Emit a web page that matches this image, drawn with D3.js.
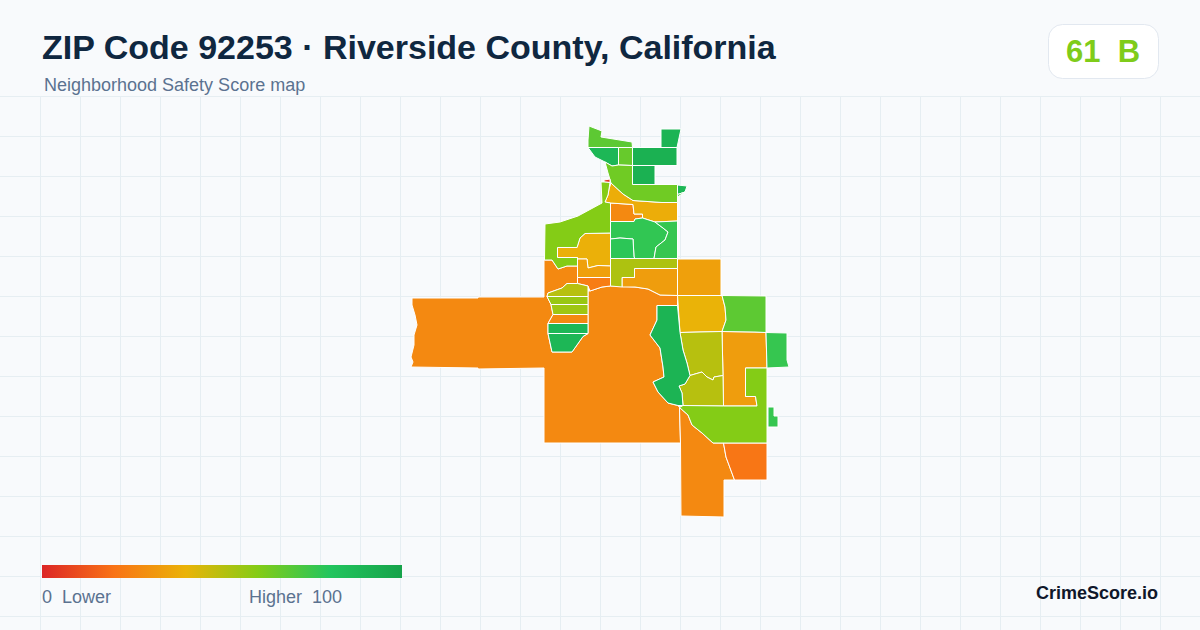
<!DOCTYPE html>
<html>
<head>
<meta charset="utf-8">
<title>ZIP Code 92253</title>
<script src="https://cdnjs.cloudflare.com/ajax/libs/d3/7.8.5/d3.min.js"></script>
<style>
html, body { margin: 0; padding: 0; background: #f8fafc; }
svg { display: block; }
text { font-family: "Liberation Sans", Arial, sans-serif; white-space: pre; }
</style>
</head>
<body>
<script>
var titleText = "ZIP Code 92253 · Riverside County, California";
var subtitleText = "Neighborhood Safety Score map";
var badgeText = "61  B";
var legendLow = "0  Lower";
var legendHigh = "Higher  100";
var brandText = "CrimeScore.io";

var scoreStops = [0, 20, 40, 60, 80, 100];
var scoreColors = ["#dc2626", "#f97316", "#eab308", "#84cc16", "#22c55e", "#16a34a"];

// score per tract, same order as tractRings
var tractScores = [
    27, 27, 21, 27, 33, 34, 40, 33, 38, 39,
    34, 23, 50, 50, 52, 50, 56, 55, 27, 88,
    88, 90, 68, 88, 66, 92, 90, 92, 64, 88,
    72, 5, 60, 77, 78, 76, 60, 68, 76, 76
];

// tract outlines in map units
var tractRings = [
    [[12,198],[78,198],[78,197],[144,197],[144,160],[152,160],[158,169],[167,166],[177.5,166],[177.5,183.5],[167,183.5],[162,188],[148,193],[147,196.5],[151,204.5],[153,214.5],[148,223.5],[148,233.5],[152,252],[172,252],[183,236.5],[188,233.5],[188,191],[190,191],[202,187],[210.5,186],[217,186],[235,187],[248,189],[260,195],[277.5,195.5],[277.5,205.5],[257,205.5],[257,220],[250,235],[260,248],[263,267],[264,277],[253,282],[258,292],[268,303],[278,305.5],[279.5,307.5],[280.5,343],[144,343],[144,268],[78,269],[78,268],[11,267],[13,262],[11,257],[14,245],[14,235],[17,225],[15,215],[12,205]],
    [[279.5,307.5],[288,315],[292,325],[302,333],[313,343],[323.5,343],[326,357],[334.5,380],[324,380],[324,417],[281,416],[280.5,343]],
    [[323.5,343],[367,343],[367,380],[334.5,380],[326,357]],
    [[210.5,103],[233,104.5],[234,114],[242.5,114],[242.5,118],[235,119],[234,121.5],[210.5,121.5]],
    [[322,231.5],[355,232],[366,232.5],[367,268],[345.5,268],[345.5,296.5],[355.5,296.5],[357,306],[323.5,306],[323,275.5]],
    [[277.5,159],[321,159],[321,195.5],[277.5,195.5]],
    [[277.5,195.5],[322,195.5],[325,207],[326,220],[322,231.5],[300,232],[280,232.5]],
    [[234.5,168.5],[277.5,168.5],[277.5,195.5],[260,195],[248,189],[235,187],[222,187],[222,177.5],[234.5,177.5]],
    [[209,89],[211,83],[223,94],[233,100.5],[262,102.5],[277.5,102.5],[277.5,121],[255,122],[242.5,118],[242.5,114],[234,114],[233,104.5],[210.5,103],[205,102],[208,95]],
    [[185,133.5],[210.5,133],[210.5,166],[198,165.5],[188,168],[187,159],[177.5,159],[177.5,157.5],[157.5,157.5],[157.5,147.5],[177,147.5],[180,138]],

    [[177.5,159],[187,159],[188,168],[198,165.5],[210.5,166],[210.5,177.5],[177.5,177.5]],
    [[177.5,177.5],[210.5,177.5],[210.5,186],[202,187],[190,191],[188,186],[177.5,183.5]],
    [[280,232.5],[300,232],[322,231.5],[323,275.5],[314,277],[313,280],[307,277],[302,272],[295,274],[290,275.5],[287,263],[283,250]],
    [[290,275.5],[295,274],[302,272],[307,277],[313,280],[314,277],[323,275.5],[323.5,306],[283,305.5],[282,293],[279,286],[285,284]],
    [[210.5,158.5],[277.5,158.5],[277.5,168.5],[234.5,168.5],[234.5,177.5],[222,177.5],[222,187],[210.5,186]],
    [[147,196.5],[148,193],[162,188],[167,183.5],[177.5,183.5],[188,186],[188,196.5]],
    [[147,196.5],[188,196.5],[188,204.5],[151,204.5]],
    [[151,204.5],[188,204.5],[188,214.5],[153,214.5]],
    [[153,214.5],[188,214.5],[188,223.5],[148,223.5]],
    [[148,223.5],[188,223.5],[188,233.5],[148,233.5]],

    [[148,233.5],[188,233.5],[183,236.5],[172,252],[152,252]],
    [[257,205.5],[277.5,205.5],[280,232.5],[283,250],[287,263],[290,275.5],[285,284],[279,286],[282,293],[283,305.5],[278,305.5],[268,303],[258,292],[253,282],[264,277],[263,267],[260,248],[250,235],[257,220]],
    [[189,26],[202,31],[201,37],[232,42],[232.5,47.5],[188,47.5],[188,40]],
    [[188,47.5],[218.5,47.5],[218.5,65],[212,66],[205,62],[195,57]],
    [[218.5,47.5],[232.5,47.5],[232.5,65.5],[218.5,65]],
    [[232.5,47.5],[277,47.5],[277,65.5],[232.5,65.5]],
    [[261,29],[281,29],[277,47.5],[261,47.5]],
    [[232.5,65.5],[255,65.5],[255,84.5],[232.5,84.5]],
    [[205,62],[212,66],[218.5,65],[232.5,65.5],[232.5,84.5],[277.5,84.5],[277.5,102.5],[262,102.5],[233,100.5],[223,94],[211,83],[208,73]],
    [[277.5,85],[287,86],[285,92],[277.5,94.5]],

    [[277.5,94.5],[285,92],[277.5,97]],
    [[204,80],[210,79],[210,82.5],[204,82]],
    [[201,82],[204,82],[210,82.5],[209,89],[208,95],[205,102],[210.5,103],[210.5,133],[185,133.5],[180,138],[177,147.5],[157.5,147.5],[157.5,157.5],[177.5,157.5],[177.5,166],[167,166],[158,169],[152,160],[144.5,160],[145,124],[160,122],[178,116],[202,103]],
    [[210.5,121.5],[234,121.5],[235,119],[242.5,118],[255,122],[263,128],[268,132],[265,140],[256,147],[254,158.5],[235,158.5],[234,157],[233,139],[220,138],[210.5,139]],
    [[210.5,139],[220,138],[233,139],[234,157],[235,158.5],[210.5,158.5]],
    [[255,122],[277.5,121],[277.5,158.5],[254,158.5],[256,147],[265,140],[268,132],[263,128]],
    [[279.5,307.5],[283,305.5],[323.5,306],[357,306],[355.5,296.5],[345.5,296.5],[345.5,268],[367,268],[367,343],[313,343],[302,333],[292,325],[288,315]],
    [[322,195.5],[366,196],[366,232.5],[355,232],[322,231.5],[326,220],[325,207]],
    [[366,232.5],[387,233],[387,260],[389,267],[367,268]],
    [[368,307],[374,307],[374,316],[378,316],[378,327],[368,327]]
];

var width = 1200, height = 630;

var svg = d3.select("body")
            .append("svg")
            .attr("width", width)
            .attr("height", height);

svg.append("rect")
    .attr("width", width)
    .attr("height", height)
    .attr("fill", "#f8fafc");

// background grid below the header
var grid = svg.append("g")
    .attr("stroke", "#e6eef2")
    .attr("stroke-width", 1);

grid.selectAll("line.v")
    .data(d3.range(40, width, 40))
    .enter().append("line")
    .attr("class", "v")
    .attr("x1", function(d) { return d + 0.5; })
    .attr("x2", function(d) { return d + 0.5; })
    .attr("y1", 97)
    .attr("y2", height);

grid.selectAll("line.h")
    .data(d3.range(97, height, 40))
    .enter().append("line")
    .attr("class", "h")
    .attr("x1", 0)
    .attr("x2", width)
    .attr("y1", function(d) { return d - 0.5; })
    .attr("y2", function(d) { return d - 0.5; });

var mapX = d3.scaleLinear().domain([0, 400]).range([400, 800]);
var mapY = d3.scaleLinear().domain([0, 450]).range([100, 550]);

var color = d3.scaleLinear().domain(scoreStops).range(scoreColors);

var ringPath = d3.line()
    .x(function(d) { return mapX(d[0]); })
    .y(function(d) { return mapY(d[1]); })
    .curve(d3.curveLinearClosed);

svg.append("g")
    .selectAll("path")
    .data(tractRings)
    .enter().append("path")
    .attr("d", ringPath)
    .attr("fill", function(d, i) { return color(tractScores[i]); })
    .attr("stroke", "#ffffff")
    .attr("stroke-width", 1)
    .attr("stroke-linejoin", "round");

// header
svg.append("text")
    .attr("x", 42)
    .attr("y", 59)
    .attr("font-size", 34)
    .attr("font-weight", 700)
    .attr("fill", "#0f2740")
    .text(titleText);

svg.append("text")
    .attr("x", 44)
    .attr("y", 91)
    .attr("font-size", 18)
    .attr("fill", "#5b7290")
    .text(subtitleText);

svg.append("rect")
    .attr("x", 1048.5)
    .attr("y", 24.5)
    .attr("width", 110)
    .attr("height", 54)
    .attr("rx", 14)
    .attr("fill", "#ffffff")
    .attr("stroke", "#e2e8f0");

svg.append("text")
    .attr("x", 1103)
    .attr("y", 62)
    .attr("text-anchor", "middle")
    .attr("font-size", 31)
    .attr("font-weight", 700)
    .attr("fill", color(61))
    .text(badgeText);

// legend
var legendScale = d3.scaleLinear().domain([0, 100]).range([42, 402]);

var defs = svg.append("defs");
var grad = defs.append("linearGradient").attr("id", "scoreGrad");
grad.selectAll("stop")
    .data(scoreStops)
    .enter().append("stop")
    .attr("offset", function(d) { return d + "%"; })
    .attr("stop-color", function(d) { return color(d); });

svg.append("rect")
    .attr("x", legendScale(0))
    .attr("y", 565)
    .attr("width", legendScale(100) - legendScale(0))
    .attr("height", 13)
    .attr("fill", "url(#scoreGrad)");

svg.append("text")
    .attr("x", legendScale(0))
    .attr("y", 603)
    .attr("font-size", 18)
    .attr("fill", "#5b7290")
    .text(legendLow);

svg.append("text")
    .attr("x", 342)
    .attr("y", 603)
    .attr("text-anchor", "end")
    .attr("font-size", 18)
    .attr("fill", "#5b7290")
    .text(legendHigh);

svg.append("text")
    .attr("x", 1158)
    .attr("y", 599)
    .attr("text-anchor", "end")
    .attr("font-size", 18)
    .attr("font-weight", 700)
    .attr("fill", "#0f172a")
    .text(brandText);
</script>
</body>
</html>
